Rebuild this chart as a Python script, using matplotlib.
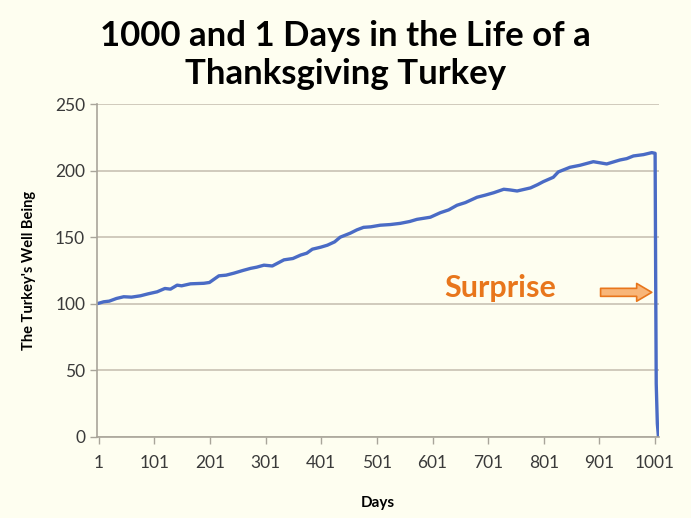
import matplotlib.pyplot as plt

# values
days = [1, 10, 20, 33, 46, 60, 76, 90, 106, 120, 130, 142, 150, 166, 190, 200,
        217, 230, 244, 260, 274, 285, 298, 313, 334, 350, 364, 375, 385, 400,
        412, 425, 435, 453, 465, 477, 490, 507, 525, 543, 560, 573, 597, 615,
        630, 645, 660, 681, 695, 711, 729, 740, 753, 777, 790, 800, 818, 827,
        848, 866, 890, 914, 938, 950, 962, 980, 995, 1001,
        1002, 1003, 1005, 1007]
well_being = [100.4, 101.5, 102, 104, 105.3, 105, 106, 107.5, 109, 111.5, 111,
              114, 113.5, 115, 115.4, 116, 121, 121.5, 123, 125, 126.6, 127.5,
              129, 128.4, 133, 134, 136.6, 138, 141, 142.5, 144, 146.5, 150,
              153, 155.5, 157.4, 157.8, 159, 159.5, 160.4, 161.8, 163.4, 165,
              168.4, 170.5, 174, 176, 180, 181.5, 183.4, 186, 185.5, 184.7,
              187, 189.5, 191.7, 195, 199, 202.5, 204, 206.7, 205, 208, 209,
              211, 212, 213.5, 213,
              120, 40, 10, 0]
x_ticks = [1, 101, 201, 301, 401, 501, 601, 701, 801, 901, 1001]
y_ticks = [0, 50, 100, 150, 200, 250]

BG = "#FEFEF0"
LINE = "#4A6BC5"
ORANGE = "#E8761C"
GRID = "#C9C1B3"

plt.rcParams["font.family"] = ["Lato", "DejaVu Sans"]

fig = plt.figure(figsize=(6.91, 5.18), dpi=100, facecolor=BG)
ax = fig.add_axes([0.1404, 0.1564, 0.8133, 0.6428], facecolor=BG)

ax.plot(days, well_being, color=LINE, lw=2.4, solid_joinstyle="round")

ax.set_xlim(-2, 1008)
ax.set_ylim(0, 250)
ax.set_xticks(x_ticks)
ax.set_yticks(y_ticks)
ax.grid(axis="y", color=GRID, lw=1.2)
ax.set_axisbelow(True)
for side in ("top", "right"):
    ax.spines[side].set_visible(False)
for side in ("left", "bottom"):
    ax.spines[side].set_color("#A9A59A")
    ax.spines[side].set_linewidth(1.2)
ax.tick_params(colors="#A9A59A", length=5, width=1, labelcolor="#3A3A3A",
               labelsize=12.5)
ax.tick_params(axis="x", pad=8)

ax.set_xlabel("Days", fontsize=11, fontweight="bold", labelpad=18)
ax.set_ylabel("The Turkey's Well Being", fontsize=10.5, fontweight="bold",
              labelpad=14)

ax.text(723, 112, "Surprise", color=ORANGE, fontsize=22, fontweight="bold",
        ha="center", va="center")
ax.annotate("", xy=(995, 108.6), xytext=(903, 108.6),
            arrowprops=dict(arrowstyle="simple,head_length=0.68,head_width=0.8,tail_width=0.36",
                            mutation_scale=16, fc="#F8B679", ec=ORANGE, lw=1.2,
                            shrinkA=0, shrinkB=0))

fig.text(0.5, 0.894, "1000 and 1 Days in the Life of a\nThanksgiving Turkey",
         ha="center", va="center", fontsize=25, fontweight="bold",
         color="#000000", linespacing=1.2)

fig.savefig("out.png", dpi=100, facecolor=BG)
